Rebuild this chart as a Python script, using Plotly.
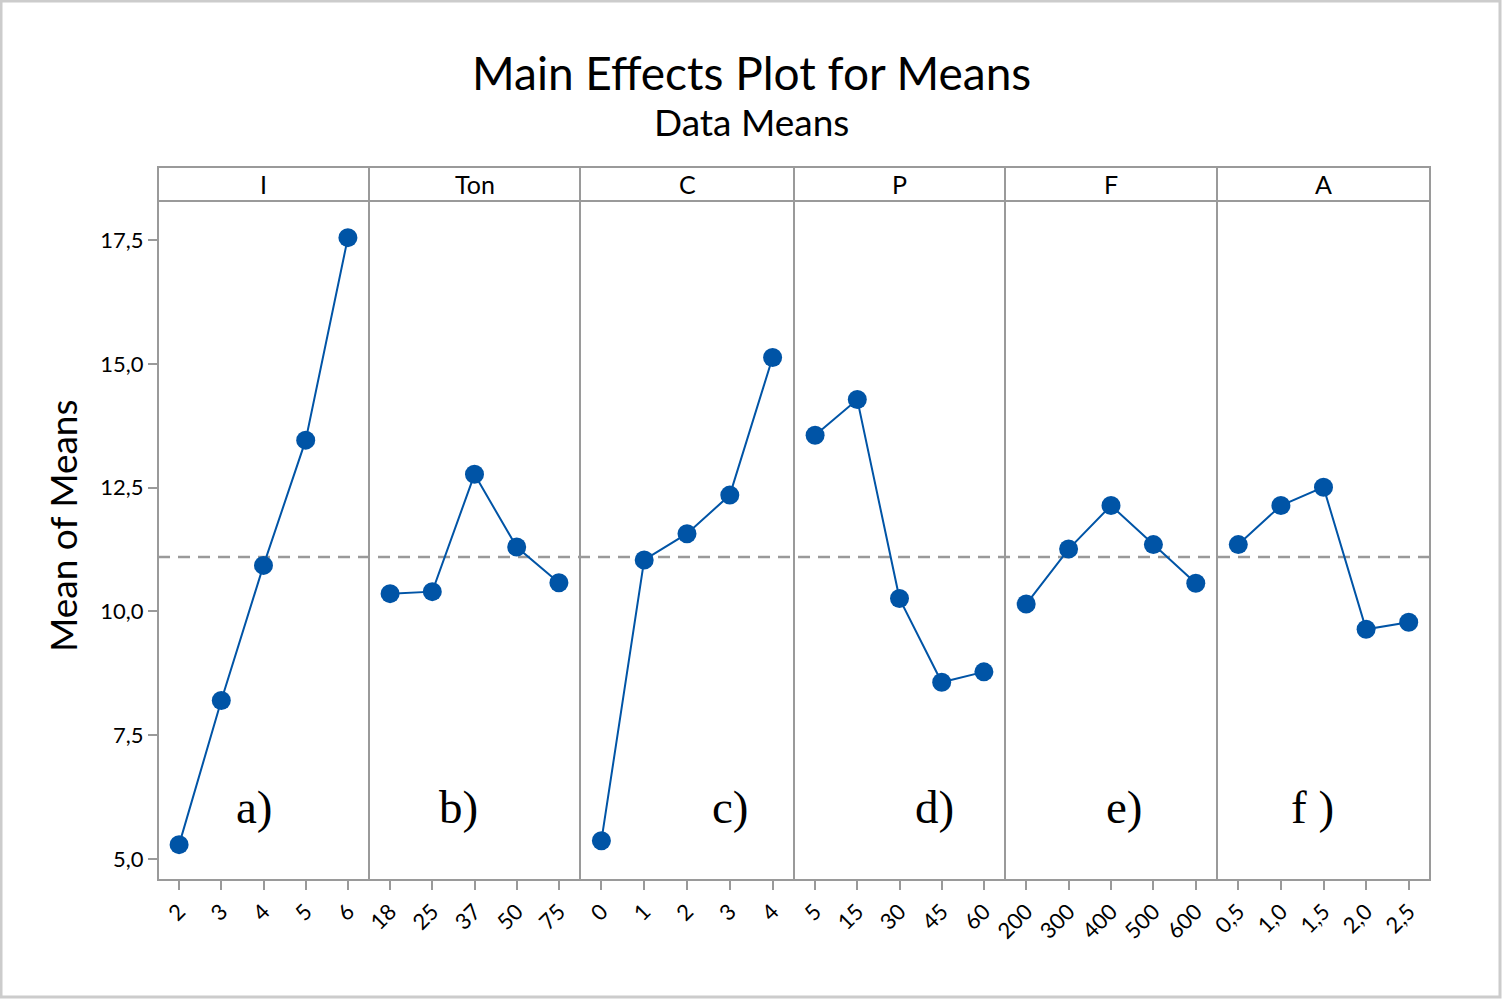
import plotly.graph_objects as go

# ---- data ----
factors = ["I", "Ton", "C", "P", "F", "A"]
levels = [
    ["2", "3", "4", "5", "6"],
    ["18", "25", "37", "50", "75"],
    ["0", "1", "2", "3", "4"],
    ["5", "15", "30", "45", "60"],
    ["200", "300", "400", "500", "600"],
    ["0,5", "1,0", "1,5", "2,0", "2,5"],
]
means_I = [5.29, 8.20, 10.93, 13.46, 17.55]
means_Ton = [10.36, 10.40, 12.77, 11.30, 10.58]
means_C = [5.37, 11.04, 11.57, 12.35, 15.13]
means_P = [13.56, 14.28, 10.26, 8.57, 8.78]
means_F = [10.15, 11.26, 12.14, 11.35, 10.57]
means_A = [11.35, 12.14, 12.51, 9.64, 9.78]
all_means = [means_I, means_Ton, means_C, means_P, means_F, means_A]
grand_mean = 11.10
panel_labels = ["a)", "b)", "c)", "d)", "e)", "f )"]
label_pos = [1.78, 1.61, 3.02, 2.84, 2.32, 1.75]
y_ticks = [5.0, 7.5, 10.0, 12.5, 15.0, 17.5]
y_tick_text = ["5,0", "7,5", "10,0", "12,5", "15,0", "17,5"]

# ---- layout geometry ----
W, H = 1502, 999
L, R, T, B = 158, 1430, 167, 880
edges_px = [158, 369, 580, 794, 1005, 1217, 1430]
strip_bottom_px = 201
pw = R - L
ph = B - T
FONT = "Lato"


def px_x(p):
    return (p - L) / pw


def px_y(p):
    return (B - p) / ph


y_dom_top = px_y(strip_bottom_px)
grey = "#9a9a9a"
blue = "#0054A6"

fig = go.Figure()
shapes = []
annotations = []

for i, (f, lv, m) in enumerate(zip(factors, levels, all_means)):
    ax = "" if i == 0 else str(i + 1)
    fig.add_trace(go.Scatter(
        x=list(range(len(lv))), y=m, mode="lines+markers",
        line=dict(color=blue, width=2),
        marker=dict(color=blue, size=19),
        xaxis="x" + ax, yaxis="y", showlegend=False, cliponaxis=False,
    ))
    fig.update_layout(**{
        "xaxis" + ax: dict(
            domain=[px_x(edges_px[i]), px_x(edges_px[i + 1])],
            range=[-0.5, 4.5], anchor="y",
            tickmode="array", tickvals=list(range(len(lv))), ticktext=lv,
            tickangle=-45, ticks="outside", ticklen=9, tickcolor=grey,
            tickwidth=2, showgrid=False, zeroline=False, showline=False,
            tickfont=dict(family=FONT, size=22, color="black"),
            fixedrange=True,
        )
    })
    x0, x1 = px_x(edges_px[i]), px_x(edges_px[i + 1])
    # panel box
    shapes.append(dict(type="rect", xref="paper", yref="paper",
                       x0=x0, x1=x1, y0=0, y1=y_dom_top,
                       line=dict(color=grey, width=2), layer="below"))
    # strip box
    shapes.append(dict(type="rect", xref="paper", yref="paper",
                       x0=x0, x1=x1, y0=y_dom_top, y1=1,
                       line=dict(color=grey, width=2), layer="below"))
    annotations.append(dict(text=f, xref="paper", yref="paper",
                            x=(x0 + x1) / 2, y=(y_dom_top + 1) / 2,
                            showarrow=False, xanchor="center", yanchor="middle",
                            font=dict(family=FONT, size=25, color="black")))
    annotations.append(dict(text=panel_labels[i], xref="x" + ax, yref="y",
                            x=label_pos[i], y=6.05, showarrow=False,
                            xanchor="center", yanchor="middle",
                            font=dict(family="Liberation Serif", size=47, color="black")))

# grand mean reference line
shapes.append(dict(type="line", xref="paper", yref="y", x0=0, x1=1,
                   y0=grand_mean, y1=grand_mean,
                   line=dict(color=grey, width=2.5, dash="12px,8px"), layer="below"))
# outer frame
shapes.append(dict(type="rect", xref="paper", yref="paper",
                   x0=px_x(1), x1=px_x(1500), y0=px_y(997), y1=px_y(1),
                   line=dict(color="#cccccc", width=3), layer="below"))

# titles
annotations.append(dict(text="Main Effects Plot for Means", xref="paper", yref="paper",
                        x=px_x(751), y=px_y(72), showarrow=False,
                        xanchor="center", yanchor="middle",
                        font=dict(family=FONT, size=46, color="black")))
annotations.append(dict(text="Data Means", xref="paper", yref="paper",
                        x=px_x(751), y=px_y(121), showarrow=False,
                        xanchor="center", yanchor="middle",
                        font=dict(family=FONT, size=37, color="black")))
annotations.append(dict(text="Mean of Means", xref="paper", yref="paper",
                        x=px_x(62), y=px_y(526), showarrow=False, textangle=-90,
                        xanchor="center", yanchor="middle",
                        font=dict(family=FONT, size=37, color="black")))

fig.update_layout(
    width=W, height=H,
    margin=dict(l=L, r=W - R, t=T, b=H - B, pad=0),
    paper_bgcolor="white", plot_bgcolor="white",
    yaxis=dict(domain=[0, y_dom_top], range=[4.576, 18.29], anchor="x",
               tickmode="array", tickvals=y_ticks, ticktext=y_tick_text,
               ticks="outside", ticklen=9, tickcolor=grey, tickwidth=2,
               showgrid=False, zeroline=False, showline=False,
               tickfont=dict(family=FONT, size=22, color="black"),
               fixedrange=True),
    shapes=shapes, annotations=annotations,
)

fig.write_html("out.html", config={"displayModeBar": False},
               post_script="document.body.style.margin='0px';")
